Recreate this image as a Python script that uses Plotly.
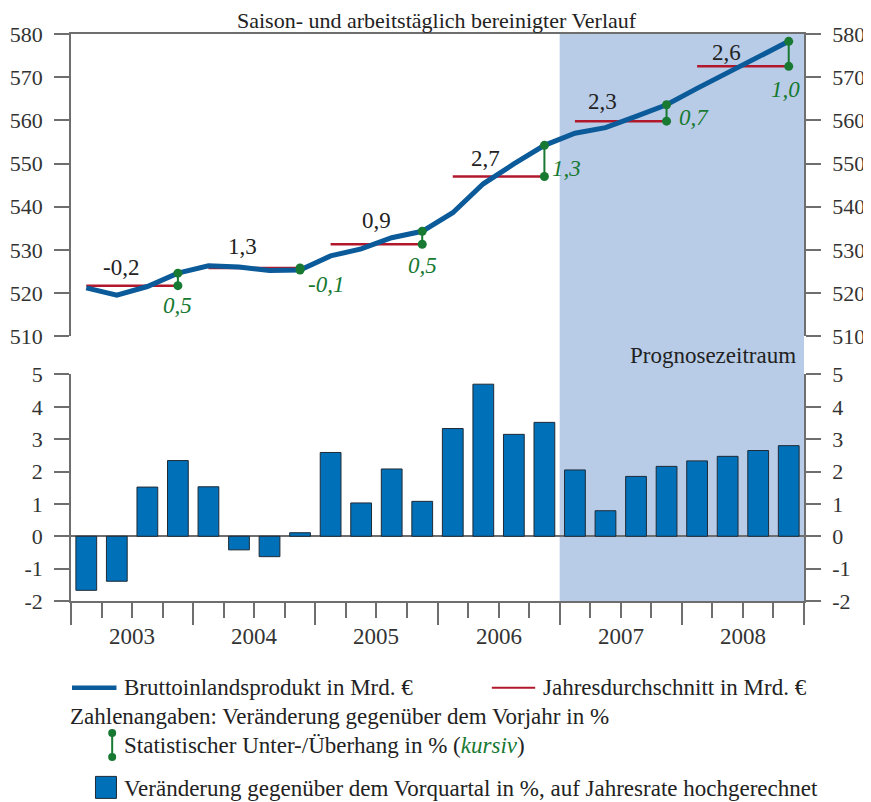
import plotly.graph_objects as go

# Quarterly GDP (seasonally and working-day adjusted), bn EUR, 2003Q1..2008Q4
gdp = [521.2, 519.5, 521.5, 524.6,
       526.3, 526.0, 525.2, 525.3,
       528.6, 530.2, 532.8, 534.3,
       538.6, 545.3, 549.9, 554.2,
       557.0, 558.3, 560.9, 563.6,
       567.4, 571.0, 574.7, 578.3]
# annual averages, bn EUR
annual_avg = [521.7, 525.8, 531.3, 547.0, 559.8, 572.5]
annual_change = ["-0,2", "1,3", "0,9", "2,7", "2,3", "2,6"]
overhang = ["0,5", "-0,1", "0,5", "1,3", "0,7", "1,0"]
# q/q change, annualised, %
qoq = [-1.67, -1.39, 1.52, 2.34,
       1.53, -0.42, -0.63, 0.11,
       2.59, 1.03, 2.08, 1.08,
       3.33, 4.70, 3.15, 3.52,
       2.05, 0.79, 1.85, 2.16,
       2.33, 2.47, 2.65, 2.80]
years = ["2003", "2004", "2005", "2006", "2007", "2008"]
gdp_ticks = [510, 520, 530, 540, 550, 560, 570, 580]
qoq_ticks = [-2, -1, 0, 1, 2, 3, 4, 5]
qoq_ticktext = ["-2", "-1", "0", "1", "2", "3", "4", "5"]
forecast_start = 16  # first forecast quarter index (2007Q1)

BLUE_LINE = "#0b5a99"
BAR = "#0070b8"
RED = "#b2182b"
GREEN = "#187a32"
SHADE = "#b8cce7"
GREY = "#6e6e6e"
TXT = "#222222"
FONT = "Liberation Serif"
FS = 23

# the page body has an 8px margin, so the figure is a bit smaller than the window
OFF = 8
W, H = 871 - OFF, 802 - OFF
L, T = 70.5 - OFF, 34 - OFF
R = W - (804 - OFF)
B = H - (600.7 - OFF)
PW, PH = W - L - R, H - T - B


def px_x(px):
    # page pixel -> paper x
    return (px - OFF - L) / PW


def px_y(py):
    # page pixel -> paper y
    return 1 - (py - OFF - T) / PH


xq = [i + 0.5 for i in range(len(gdp))]

# red annual-average segments, green overhang segments
red_x, red_y, grn_x, grn_y = [], [], [], []
for k, avg in enumerate(annual_avg):
    red_x += [4 * k + 0.5, 4 * k + 3.5, None]
    red_y += [avg, avg, None]
    grn_x += [4 * k + 3.5, 4 * k + 3.5, None]
    grn_y += [avg, gdp[4 * k + 3], None]

fig = go.Figure()
fig.add_trace(go.Bar(x=xq, y=qoq, width=0.68, xaxis="x", yaxis="y2",
                     marker=dict(color=BAR, line=dict(color="#1f2a36", width=1))))
fig.add_trace(go.Scatter(x=xq, y=qoq, xaxis="x", yaxis="y4", mode="lines",
                         line=dict(width=0), hoverinfo="skip"))
fig.add_trace(go.Scatter(x=red_x, y=red_y, xaxis="x2", yaxis="y", mode="lines",
                         line=dict(color=RED, width=2.5)))
fig.add_trace(go.Scatter(x=xq, y=gdp, xaxis="x2", yaxis="y", mode="lines",
                         line=dict(color=BLUE_LINE, width=5)))
fig.add_trace(go.Scatter(x=grn_x, y=grn_y, xaxis="x2", yaxis="y", mode="lines+markers",
                         line=dict(color=GREEN, width=2), marker=dict(color=GREEN, size=9)))
fig.add_trace(go.Scatter(x=xq, y=gdp, xaxis="x2", yaxis="y3", mode="lines",
                         line=dict(width=0), hoverinfo="skip"))

yax = dict(showgrid=False, zeroline=False, showline=True, linecolor=GREY, linewidth=1.5,
           ticks="outside", ticklen=15, tickcolor=GREY, tickwidth=1.5, automargin=False,
           tickfont=dict(family=FONT, size=22, color="#333333"), ticklabelstandoff=7)
top_dom = [px_y(336), 1]
bot_dom = [0, px_y(374.3)]

fig.update_layout(
    width=W, height=H,
    margin=dict(l=L, r=R, t=T, b=B),
    paper_bgcolor="white", plot_bgcolor="rgba(0,0,0,0)",
    showlegend=False,
    xaxis=dict(domain=[0, 1], anchor="y2", range=[0, 24], showgrid=False, zeroline=False,
               showline=True, linecolor=GREY, linewidth=1.5, showticklabels=False,
               automargin=False,
               tickmode="linear", tick0=0, dtick=4, ticks="outside", ticklen=22,
               tickcolor=GREY, tickwidth=1.5,
               minor=dict(tickmode="linear", tick0=0, dtick=1, ticks="outside", ticklen=15,
                          tickcolor=GREY, tickwidth=1.5)),
    xaxis2=dict(domain=[0, 1], anchor="y", range=[0, 24], matches="x", side="top",
                showgrid=False, zeroline=False, showline=True, linecolor=GREY,
                linewidth=1.5, showticklabels=False, ticks="", automargin=False),
    yaxis=dict(domain=top_dom, anchor="x2", range=[510, 580], tickvals=gdp_ticks, **yax),
    yaxis3=dict(overlaying="y", side="right", anchor="x2", range=[510, 580],
                tickvals=gdp_ticks, **yax),
    yaxis2=dict(domain=bot_dom, anchor="x", range=[-2, 5], tickvals=qoq_ticks,
                ticktext=qoq_ticktext, **yax),
    yaxis4=dict(overlaying="y2", side="right", anchor="x", range=[-2, 5], tickvals=qoq_ticks,
                ticktext=qoq_ticktext, **yax),
)
fig.update_layout(yaxis2_zeroline=True, yaxis2_zerolinecolor=GREY, yaxis2_zerolinewidth=1.5)

# forecast shading
fig.add_shape(type="rect", xref="x", yref="paper", x0=forecast_start, x1=24, y0=0, y1=1,
              fillcolor=SHADE, line_width=0, layer="below")

ann = []
ann.append(dict(text="Saison- und arbeitstäglich bereinigter Verlauf", xref="paper", yref="paper",
                x=px_x(437), y=px_y(21), xanchor="center", yanchor="middle", showarrow=False,
                font=dict(family=FONT, size=22, color=TXT)))
ann.append(dict(text="Prognosezeitraum", xref="x", yref="paper", x=24, xanchor="right", xshift=-6,
                y=px_y(355), yanchor="middle", showarrow=False,
                font=dict(family=FONT, size=FS, color=TXT)))
for k, y in enumerate(years):
    ann.append(dict(text=y, xref="x", yref="paper", x=4 * k + 2, y=px_y(636), xanchor="center",
                    yanchor="middle", showarrow=False,
                    font=dict(family=FONT, size=FS, color="#333333")))

# annual change labels above the red lines
chg_dx = [1.64, 1.63, 2.0, 1.56, 1.41, 1.47]
chg_dy = [18, 21, 24, 18, 20, 14]
for k, t in enumerate(annual_change):
    ann.append(dict(text=t, xref="x2", yref="y", x=4 * k + chg_dx[k], y=annual_avg[k],
                    yshift=chg_dy[k], xanchor="center", yanchor="middle", showarrow=False,
                    font=dict(family=FONT, size=FS, color=TXT)))

# overhang labels (italic, green)
oh_dx = [0, 26, 0, 22, 27, -3]
oh_dy = [-20, -14, -21, 8, 4, -23]
for k, t in enumerate(overhang):
    low = min(annual_avg[k], gdp[4 * k + 3])
    ann.append(dict(text="<i>" + t + "</i>", xref="x2", yref="y", x=4 * k + 3.5, y=low,
                    xshift=oh_dx[k], yshift=oh_dy[k], xanchor="center", yanchor="middle",
                    showarrow=False, font=dict(family=FONT, size=FS, color=GREEN)))

# custom legend
leg_font = dict(family=FONT, size=FS, color=TXT)


def leg_text(text, x, y):
    ann.append(dict(text=text, xref="paper", yref="paper", x=px_x(x), y=px_y(y),
                    xanchor="left", yanchor="middle", showarrow=False, font=leg_font))


fig.add_shape(type="line", xref="paper", yref="paper", x0=px_x(71.5), x1=px_x(116),
              y0=px_y(687.3), y1=px_y(687.3), line=dict(color=BLUE_LINE, width=4.5))
leg_text("Bruttoinlandsprodukt in Mrd. €", 122, 687.3)
fig.add_shape(type="line", xref="paper", yref="paper", x0=px_x(491.6), x1=px_x(535),
              y0=px_y(687.3), y1=px_y(687.3), line=dict(color=RED, width=2))
leg_text("Jahresdurchschnitt in Mrd. €", 541, 687.3)
leg_text("Zahlenangaben: Veränderung gegenüber dem Vorjahr in %", 67.5, 716)
fig.add_shape(type="line", xref="paper", yref="paper", x0=px_x(111.7), x1=px_x(111.7),
              y0=px_y(732.7), y1=px_y(756.7), line=dict(color=GREEN, width=2))
for cy in (732.7, 756.7):
    fig.add_shape(type="circle", xref="paper", yref="paper", xsizemode="pixel",
                  ysizemode="pixel", xanchor=px_x(111.7), yanchor=px_y(cy),
                  x0=-4, x1=4, y0=-4, y1=4, fillcolor=GREEN, line_width=0)
leg_text("Statistischer Unter-/Überhang in % (<i><span style='color:" + GREEN
         + "'>kursiv</span></i>)", 122, 745)
fig.add_shape(type="rect", xref="paper", yref="paper", x0=px_x(95), x1=px_x(116),
              y0=px_y(798), y1=px_y(776), fillcolor=BAR, line=dict(color="#1f2a36", width=1))
leg_text("Veränderung gegenüber dem Vorquartal in %, auf Jahresrate hochgerechnet", 122, 787.7)

fig.update_layout(annotations=ann)
fig.write_html("out.html")
